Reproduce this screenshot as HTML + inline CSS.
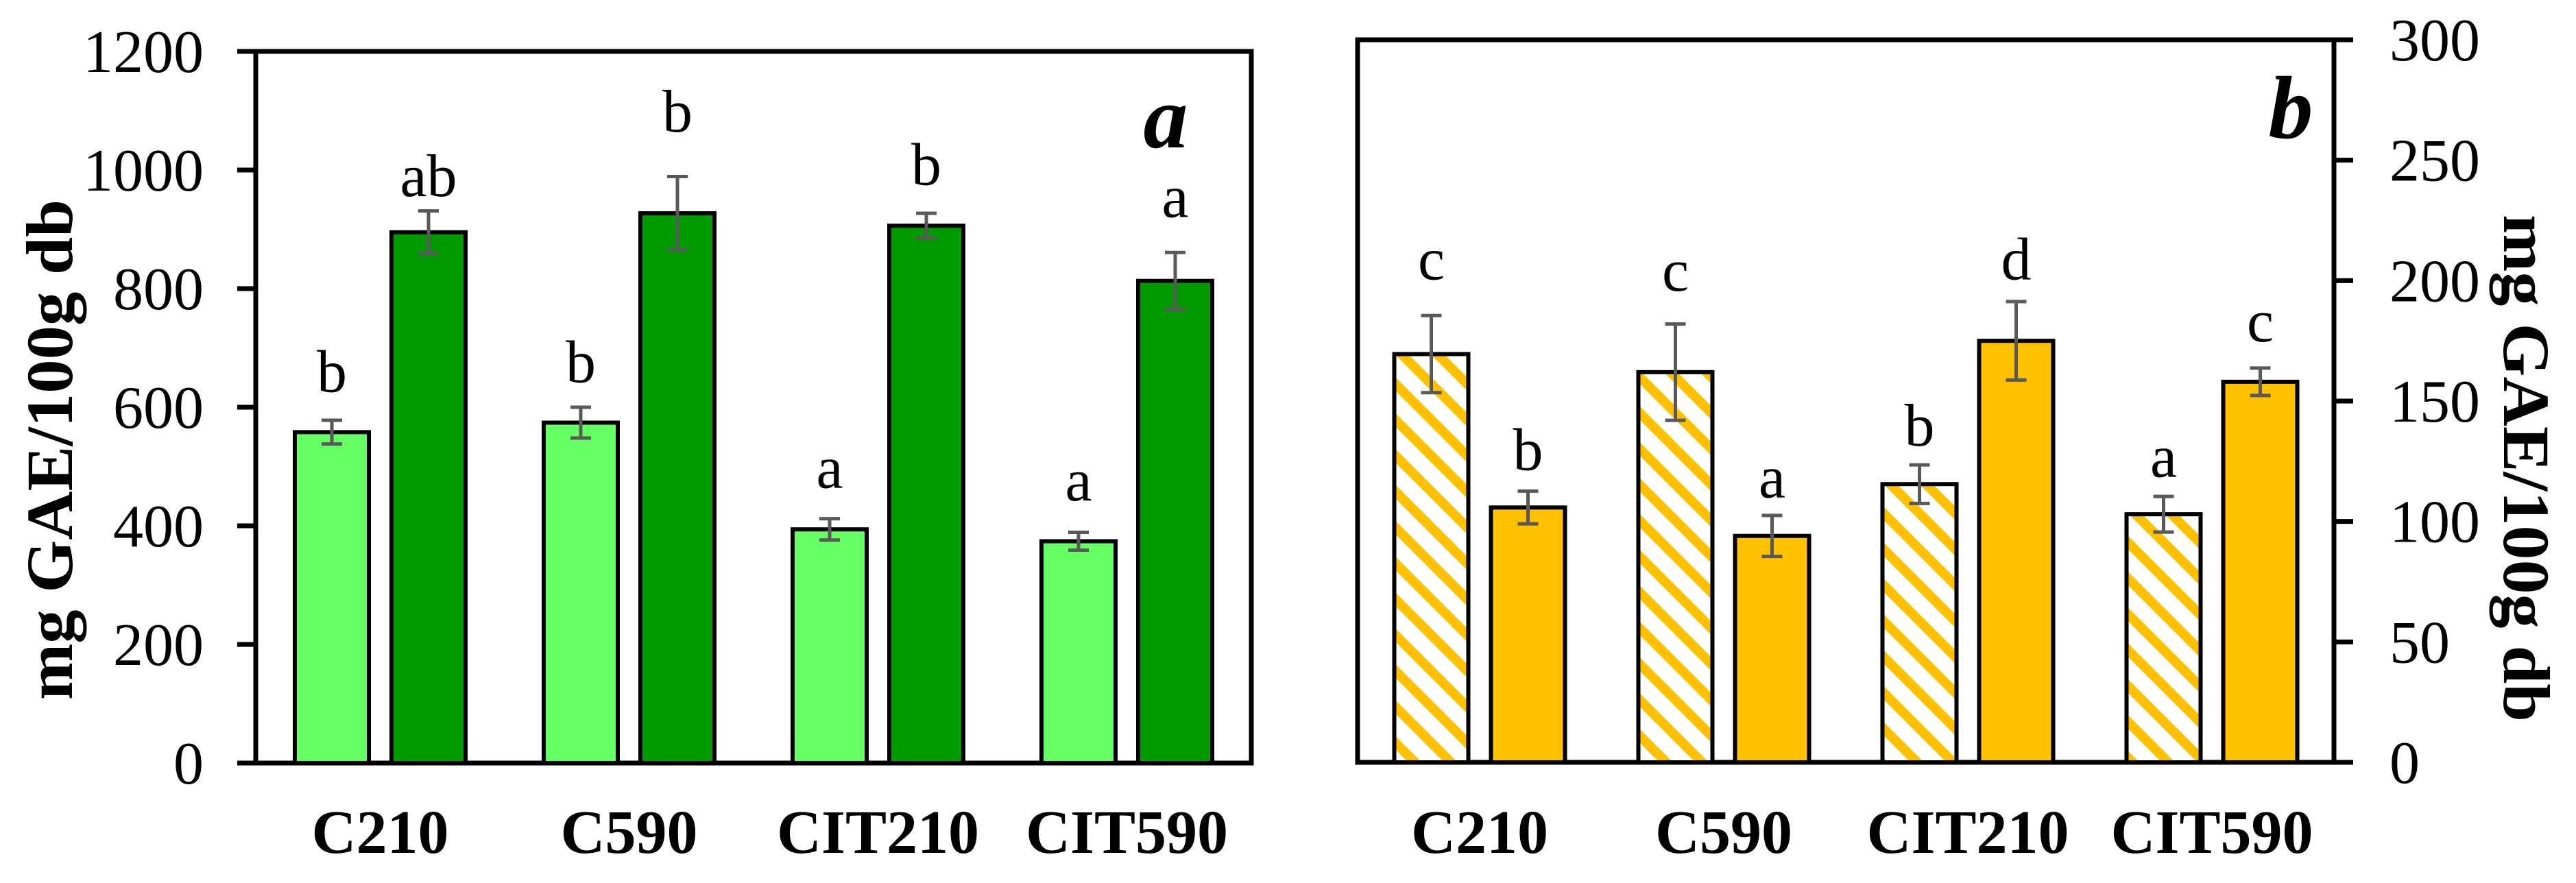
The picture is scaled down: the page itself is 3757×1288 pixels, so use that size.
<!DOCTYPE html>
<html><head><meta charset="utf-8"><style>
html,body{margin:0;padding:0;background:#fff;}
svg{display:block;}
text{font-family:"Liberation Serif","Times New Roman",serif;}
</style></head><body>
<svg id="chart" xmlns="http://www.w3.org/2000/svg" width="3757" height="1288" viewBox="0 0 3757 1288">
<defs>
<pattern id="hatch" patternUnits="userSpaceOnUse" width="37" height="37" patternTransform="rotate(-45)">
<rect width="37" height="37" fill="#ffffff"/>
<rect x="0" y="0" width="14" height="37" fill="#FFC000"/>
</pattern>
</defs>
<g id="panelA"></g>
<g id="panelB"></g>
</svg>
<script>
const categories = ["C210","C590","CIT210","CIT590"];
// Panel a
const aLight = [558, 574, 394, 374];
const aLightErr = [20, 26, 18, 15];
const aDark = [895, 927, 906, 813];
const aDarkErr = [36, 62, 21, 48];
const aLightLetters = ["b","b","a","a"];
const aLightLetterY = [626, 642, 464, 443];
const aDarkLetters = ["ab","b","b","a"];
const aDarkLetterY = [956, 1065, 975, 921];
const aTicks = [0,200,400,600,800,1000,1200];
// Panel b
const bHatch = [169.5, 162, 115.5, 103];
const bHatchErr = [16, 20, 8, 7.4];
const bSolid = [105.8, 94, 175, 158];
const bSolidErr = [6.8, 8.5, 16.3, 5.7];
const bHatchLetters = ["c","c","b","a"];
const bHatchLetterY = [200.5, 195.8, 131.5, 118.6];
const bSolidLetters = ["b","a","d","c"];
const bSolidLetterY = [121.4, 110, 200.5, 174.8];
const bTicks = [0,50,100,150,200,250,300];

const NS = "http://www.w3.org/2000/svg";
function mk(parent, tag, attrs, txt){
  const e = document.createElementNS(NS, tag);
  for (const k in attrs) e.setAttribute(k, attrs[k]);
  if (txt !== undefined) e.textContent = txt;
  parent.appendChild(e);
  return e;
}

function drawPanel(g, cfg){
  const {x0, x1, yTop, yBot, max, ticks, s1, e1, s2, e2, fill1, fill2, l1, ly1, l2, ly2, side} = cfg;
  const ys = v => yBot - v / max * (yBot - yTop);
  const band = (x1 - x0) / categories.length;
  const bw = 108, gap = 33;
  const frame = mk(g, "rect", {x:x0, y:yTop, width:x1-x0, height:yBot-yTop, fill:"none", stroke:"#000", "stroke-width":7});
  
  
  ticks.forEach(t => {
    const y = ys(t);
    const ax = side === "left" ? x0 : x1;
    const tx = side === "left" ? ax - 27 : ax + 28;
    const tk = mk(g, "line", {x1:ax, x2:tx, y1:y, y2:y, stroke:"#000", "stroke-width":7});
    
    
    const lab = mk(g, "text", side === "left"
      ? {x:297, y:y+30, "text-anchor":"end", "font-size":88}
      : {x:3485, y:y+30, "text-anchor":"start", "font-size":88}, String(t));
    
    
  });
  categories.forEach((c, i) => {
    const cx = x0 + band * (i + 0.5);
    const bx1 = cx - gap/2 - bw, bx2 = cx + gap/2;
    [[s1, e1, fill1, l1, ly1, bx1, "bar-first"], [s2, e2, fill2, l2, ly2, bx2, "bar-second"]].forEach(([sv, ev, fl, lt, lyv, bx, nm]) => {
      const v = sv[i];
      const r = mk(g, "rect", {x:bx, y:ys(v), width:bw, height:yBot-ys(v), fill:fl, stroke:"#000", "stroke-width":6});
      
      
      const mx = bx + bw/2, et = ys(v + ev[i]), eb = ys(v - ev[i]);
      const el = mk(g, "path", {d:`M${mx},${et}V${eb}M${mx-15},${et}H${mx+15}M${mx-15},${eb}H${mx+15}`, stroke:"#595959", "stroke-width":5, fill:"none"});
      
      
      const t = mk(g, "text", {x:mx, y:ys(lyv[i]), "text-anchor":"middle", "font-size":88}, lt[i]);
      
      
    });
    const cl = mk(g, "text", {x:cx, y:1244, "text-anchor":"middle", "font-size":90, "font-weight":"bold"}, c);
    
    
  });
}

const gA = document.getElementById("panelA");
drawPanel(gA, {x0:373, x1:1825, yTop:75, yBot:1113, max:1200, ticks:aTicks, s1:aLight, e1:aLightErr, s2:aDark, e2:aDarkErr, fill1:"#66FF66", fill2:"#009900", l1:aLightLetters, ly1:aLightLetterY, l2:aDarkLetters, ly2:aDarkLetterY, side:"left"});
const gB = document.getElementById("panelB");
drawPanel(gB, {x0:1980, x1:3404, yTop:58, yBot:1112, max:300, ticks:bTicks, s1:bHatch, e1:bHatchErr, s2:bSolid, e2:bSolidErr, fill1:"url(#hatch)", fill2:"#FFC000", l1:bHatchLetters, ly1:bHatchLetterY, l2:bSolidLetters, ly2:bSolidLetterY, side:"right"});

const ta = mk(gA, "text", {x:0, y:0, transform:"translate(105,656) rotate(-90)", "text-anchor":"middle", "font-size":96, "font-weight":"bold", textLength:730, lengthAdjust:"spacingAndGlyphs"}, "mg GAE/100g db");


const tb = mk(gB, "text", {x:0, y:0, transform:"translate(3652,683) rotate(90)", "text-anchor":"middle", "font-size":96, "font-weight":"bold", textLength:740, lengthAdjust:"spacingAndGlyphs"}, "mg GAE/100g db");


const pa = mk(gA, "text", {x:1700, y:215, "text-anchor":"middle", "font-size":130, "font-weight":"bold", "font-style":"italic"}, "a");


const pb = mk(gB, "text", {x:3341, y:201, "text-anchor":"middle", "font-size":130, "font-weight":"bold", "font-style":"italic"}, "b");


</script>
</body></html>
